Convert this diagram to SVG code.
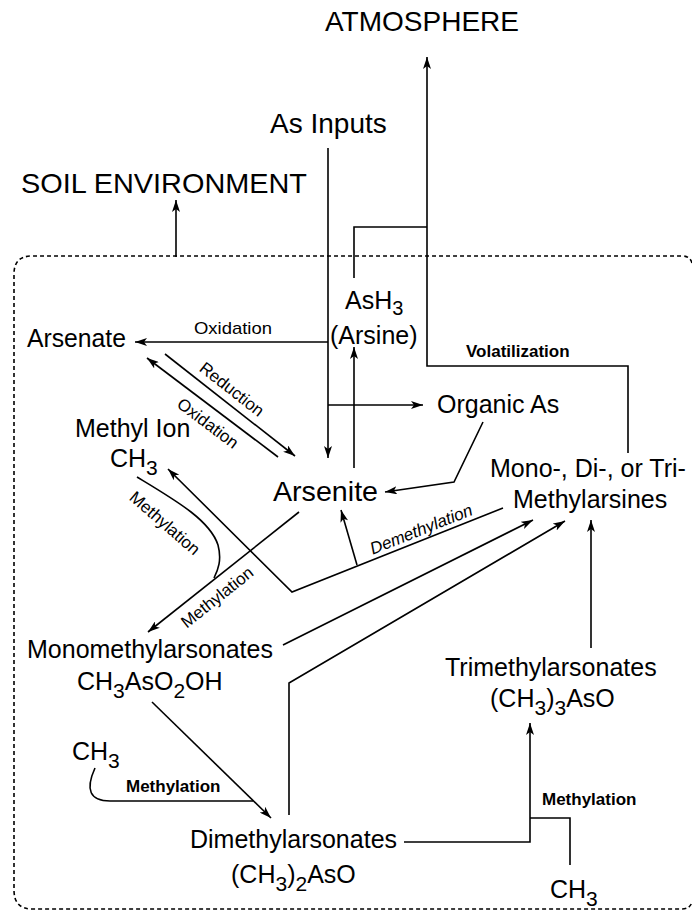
<svg xmlns="http://www.w3.org/2000/svg" width="692" height="913" viewBox="0 0 692 913">
<style>
text{font-family:"Liberation Sans",Arial,Helvetica,sans-serif;fill:#000}
.h{font-size:28px}
.n{font-size:25px}
.big{font-size:28px}
.lb{font-size:17px}
.lbb{font-size:17px;font-weight:bold}
.c{fill:none;stroke:#000;stroke-width:1.6;stroke-linejoin:miter}
.b{fill:none;stroke:#000;stroke-width:1.6;stroke-dasharray:4 3}
</style>
<defs>
<marker id="ah" viewBox="0 0 12 8" refX="12" refY="4" markerWidth="12" markerHeight="8" markerUnits="userSpaceOnUse" orient="auto"><path d="M0,0 L12,4 L0,8 L3,4 z" fill="#000"/></marker>
</defs>
<rect width="692" height="913" fill="#fff"/>

<g id="soil-boundary">
<path class="b" d="M692,263 Q690,256 682,256 H32 Q14,256 14,274 V890 Q14,909 32,909 H682 Q690,909 692,902"/>
</g>

<g id="connectors">
<path class="c" d="M628,453 V366 H427 V57" marker-end="url(#ah)"/>
<path class="c" d="M176,257 V200" marker-end="url(#ah)"/>
<path class="c" d="M328,148 V458" marker-end="url(#ah)"/>
<path class="c" d="M328,342 H135" marker-end="url(#ah)"/>
<path class="c" d="M328,405 H423" marker-end="url(#ah)"/>
<path class="c" d="M354,278 V227 H427"/>
<path class="c" d="M354,468 V347" marker-end="url(#ah)"/>
<path class="c" d="M165,354 L295,456" marker-end="url(#ah)"/>
<path class="c" d="M278,457 L147,358" marker-end="url(#ah)"/>
<path class="c" d="M483,422 L454,482 L385,492" marker-end="url(#ah)"/>
<path class="c" d="M503,508 L292,592 L168,469" marker-end="url(#ah)"/>
<path class="c" d="M357,565 L341,510" marker-end="url(#ah)"/>
<path class="c" d="M299,512 L148,632" marker-end="url(#ah)"/>
<path class="c" d="M137,477 C175,500 210,520 218,545 C222,560 218,570 214,578"/>
<path class="c" d="M283,645 L533,520" marker-end="url(#ah)"/>
<path class="c" d="M289,815 V683 L565,521" marker-end="url(#ah)"/>
<path class="c" d="M591,648 V520" marker-end="url(#ah)"/>
<path class="c" d="M152,702 L271,818" marker-end="url(#ah)"/>
<path class="c" d="M95,768 C85,790 90,801 110,801 H253"/>
<path class="c" d="M404,842 H530 V723" marker-end="url(#ah)"/>
<path class="c" d="M570,865 V818 H530"/>

<text class="lb" x="194" y="334" textLength="78" lengthAdjust="spacingAndGlyphs">Oxidation</text>
<text class="lbb" x="466" y="357">Volatilization</text>
<text class="lb" transform="translate(232,389) rotate(38)" y="6" text-anchor="middle">Reduction</text>
<text class="lb" transform="translate(208,423) rotate(37)" y="6" text-anchor="middle">Oxidation</text>
<text class="lb" transform="translate(165,523) rotate(41)" y="6" text-anchor="middle">Methylation</text>
<text class="lb" transform="translate(217,597) rotate(-38.5)" y="6" text-anchor="middle">Methylation</text>
<text class="lb" transform="translate(421,529) rotate(-21.7)" y="6" text-anchor="middle" font-style="italic">Demethylation</text>
<text class="lbb" x="126" y="792">Methylation</text>
<text class="lbb" x="542" y="805">Methylation</text>
</g>

<g id="atmosphere"><text class="h" x="325" y="31">ATMOSPHERE</text></g>
<g id="as-inputs"><text class="h" x="270" y="133">As Inputs</text></g>
<g id="soil-environment"><text class="h" x="21" y="193" textLength="286" lengthAdjust="spacingAndGlyphs">SOIL ENVIRONMENT</text></g>

<g id="arsine">
<text class="n" x="345" y="309">AsH<tspan font-size="20" dy="6">3</tspan></text>
<text class="n" x="330" y="344">(Arsine)</text>
</g>
<g id="arsenate"><text class="n" x="27" y="347" textLength="99" lengthAdjust="spacingAndGlyphs">Arsenate</text></g>
<g id="organic-as"><text class="n" x="437" y="413">Organic As</text></g>
<g id="methyl-ion">
<text class="n" x="75" y="437">Methyl Ion</text>
<text class="n" x="110" y="467">CH<tspan font-size="21" dy="8">3</tspan></text>
</g>
<g id="arsenite"><text class="big" x="273" y="501" textLength="105" lengthAdjust="spacingAndGlyphs">Arsenite</text></g>
<g id="methylarsines">
<text class="n" x="490" y="477">Mono-, Di-, or Tri-</text>
<text class="n" x="513" y="508">Methylarsines</text>
</g>
<g id="monomethylarsonates">
<text class="n" x="27" y="658">Monomethylarsonates</text>
<text class="n" x="77" y="690">CH<tspan font-size="21" dy="8">3</tspan><tspan dy="-8">AsO</tspan><tspan font-size="21" dy="8">2</tspan><tspan dy="-8">OH</tspan></text>
</g>
<g id="trimethylarsonates">
<text class="n" x="445" y="676">Trimethylarsonates</text>
<text class="n" x="490" y="707">(CH<tspan font-size="21" dy="8">3</tspan><tspan dy="-8">)</tspan><tspan font-size="21" dy="8">3</tspan><tspan dy="-8">AsO</tspan></text>
</g>
<g id="ch3-left"><text class="n" x="72" y="760">CH<tspan font-size="21" dy="8">3</tspan></text></g>
<g id="dimethylarsonates">
<text class="n" x="190" y="848">Dimethylarsonates</text>
<text class="n" x="231" y="883">(CH<tspan font-size="21" dy="8">3</tspan><tspan dy="-8">)</tspan><tspan font-size="21" dy="8">2</tspan><tspan dy="-8">AsO</tspan></text>
</g>
<g id="ch3-right"><text class="n" x="550" y="898">CH<tspan font-size="21" dy="8">3</tspan></text></g>
</svg>
